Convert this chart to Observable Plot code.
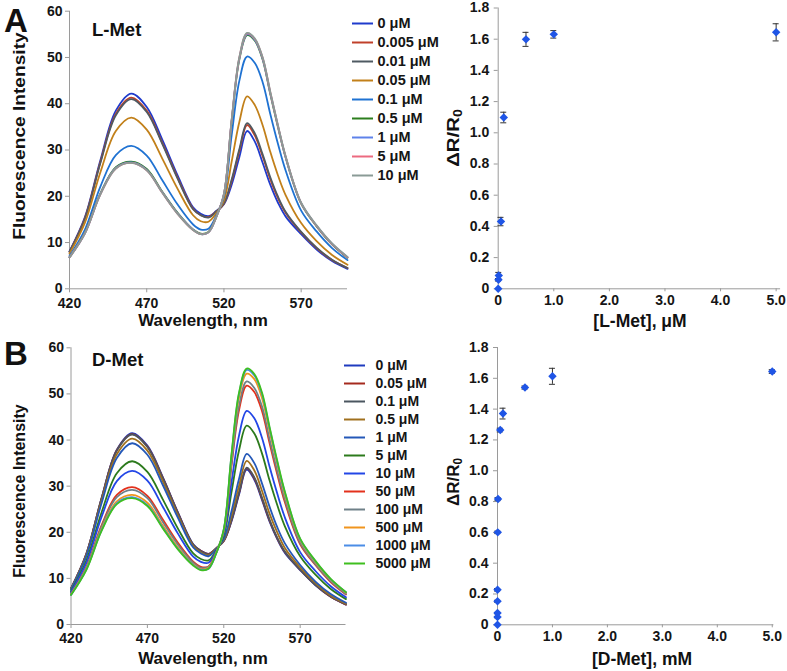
<!DOCTYPE html>
<html><head><meta charset="utf-8">
<script src="https://cdn.jsdelivr.net/npm/d3@7"></script>
<script src="https://cdn.jsdelivr.net/npm/@observablehq/plot@0.6"></script>
<style>
body{margin:0;background:#fff;}
#fig{position:relative;width:787px;height:671px;overflow:hidden;background:#fff;font-family:"Liberation Sans",Arial,Helvetica,sans-serif}
#fig g[aria-label="x-axis tick"], #fig g[aria-label="y-axis tick"]{stroke:#9a9a9a}
</style></head><body><div id="fig"></div><script>
// ---------- data ----------
const wavelengths = [420,430,440,450,460,470,480,490,500,505,510,515,520,525,530,535,540,545,550,555,560,570,580,590,600];

const lmetLabels = ["0 μM","0.005 μM","0.01 μM","0.05 μM","0.1 μM","0.5 μM","1 μM","5 μM","10 μM"];
const lmetColors = ["#1f3bcc","#c0402a","#4f5a62","#c2801a","#1f72d2","#2c7e1e","#5e82ea","#ec6a80","#8a9b96"];
const lmet0    = [8.1,15.5,27.8,38.5,42.2,39.3,32.3,24.5,17.6,16.2,15.7,16.8,18.3,22.5,28.5,34.1,31.8,27.3,22.5,18.6,15.6,11.8,8.5,6.0,4.3];
const lmet0005 = [8.0,15.3,27.4,37.8,41.3,38.5,31.6,24.0,17.3,15.9,15.5,16.7,18.4,23.3,29.8,35.4,33.1,28.7,23.7,19.6,16.4,12.2,8.8,6.2,4.5];
const lmet001  = [8.0,15.2,27.2,37.5,41.0,38.2,31.4,23.8,17.2,15.9,15.4,16.7,18.5,23.6,30.2,35.8,33.6,29.1,24.1,19.9,16.6,12.3,8.9,6.3,4.5];
const lmet005  = [7.6,14.3,25.2,34.1,37.0,34.4,28.2,21.6,15.9,14.6,14.5,16.3,19.1,27.5,36.1,41.6,39.7,35.4,29.6,24.5,20.2,14.2,10.3,7.3,5.2];
const lmet01   = [7.1,12.8,22.1,28.9,30.9,28.8,23.5,18.2,13.9,12.8,13.0,15.8,20.0,33.2,45.0,50.2,48.8,44.7,37.8,31.3,25.5,16.9,12.4,8.8,6.2];
const lmet05   = [6.8,12.1,20.6,26.3,27.5,25.9,21.0,16.4,12.8,11.9,12.3,15.5,20.4,36.2,49.6,54.8,53.6,49.6,42.1,34.9,28.3,18.4,13.5,9.6,6.7];
const lmet1    = [6.8,12.0,20.5,26.1,27.3,25.7,20.9,16.3,12.8,11.8,12.2,15.5,20.5,36.4,49.8,55.0,53.8,49.8,42.3,35.1,28.4,18.5,13.6,9.7,6.8];
const lmet5    = [6.8,12.0,20.4,26.0,27.2,25.6,20.8,16.2,12.7,11.8,12.2,15.5,20.5,36.5,50.0,55.2,54.0,50.0,42.5,35.2,28.5,18.5,13.6,9.7,6.8];
const lmet10   = [6.8,12.0,20.4,26.0,27.2,25.6,20.8,16.2,12.7,11.8,12.2,15.5,20.5,36.5,50.1,55.3,54.1,50.1,42.6,35.3,28.6,18.6,13.7,9.8,6.9];
const lmetSpectra = [lmet0,lmet0005,lmet001,lmet005,lmet01,lmet05,lmet1,lmet5,lmet10];

const dmetLabels = ["0 μM","0.05 μM","0.1 μM","0.5 μM","1 μM","5 μM","10 μM","50 μM","100 μM","500 μM","1000 μM","5000 μM"];
const dmetColors = ["#1f3bbf","#a52a1e","#4b5660","#a0701e","#2458b8","#2c7a1c","#2346e6","#e3311c","#6f8088","#f0951e","#4b8de6","#3fbf1f"];
const dmet0    = [7.8,15.3,27.4,37.9,41.5,38.8,32.0,24.3,17.4,16.0,15.3,16.5,18.1,22.3,28.2,33.6,31.4,27.0,22.3,18.5,15.5,11.8,8.5,6.0,4.3];
const dmet005  = [7.8,15.3,27.3,37.8,41.3,38.6,31.9,24.2,17.3,16.0,15.3,16.5,18.1,22.5,28.5,33.9,31.7,27.3,22.5,18.7,15.7,11.9,8.6,6.0,4.3];
const dmet01   = [7.8,15.2,27.3,37.7,41.2,38.5,31.8,24.1,17.3,15.9,15.2,16.5,18.2,22.6,28.6,34.0,31.9,27.5,22.7,18.8,15.8,11.9,8.6,6.1,4.4];
const dmet05   = [7.7,15.0,26.8,36.9,40.3,37.7,31.1,23.6,17.0,15.6,15.0,16.4,18.3,23.5,30.1,35.5,33.4,29.0,24.0,20.0,16.6,12.4,9.0,6.3,4.5];
const dmet1    = [7.6,14.8,26.3,36.1,39.3,36.8,30.3,23.1,16.7,15.4,14.8,16.3,18.5,24.5,31.6,37.0,35.0,30.6,25.5,21.1,17.6,12.9,9.3,6.6,4.7];
const dmet5    = [7.2,13.8,24.3,32.8,35.4,33.1,27.2,20.8,15.4,14.2,13.9,16.0,19.2,28.6,37.8,43.1,41.4,37.1,31.2,25.9,21.3,14.8,10.8,7.7,5.5];
const dmet10   = [7.0,13.3,23.3,31.1,33.3,31.2,25.6,19.7,14.7,13.6,13.4,15.9,19.6,30.7,41.0,46.3,44.7,40.5,34.2,28.4,23.2,15.7,11.6,8.3,5.9];
const dmet50   = [6.6,12.4,21.5,28.1,29.8,27.9,22.8,17.7,13.6,12.5,12.6,15.6,20.2,34.3,46.5,51.8,50.4,46.3,39.3,32.6,26.5,17.4,12.9,9.2,6.5];
const dmet100  = [6.6,12.3,21.2,27.6,29.2,27.4,22.3,17.3,13.4,12.3,12.5,15.5,20.3,34.8,47.4,52.7,51.3,47.3,40.1,33.3,27.1,17.7,13.1,9.4,6.6];
const dmet500  = [6.5,12.0,20.7,26.7,28.1,26.4,21.5,16.7,13.0,12.0,12.3,15.5,20.5,36.0,49.2,54.4,53.2,49.1,41.8,34.7,28.1,18.3,13.5,9.7,6.9];
const dmet1000 = [6.4,11.9,20.4,26.3,27.6,25.9,21.1,16.4,12.9,11.9,12.1,15.4,20.6,36.5,50.0,55.2,54.0,50.0,42.5,35.2,28.6,18.5,13.7,9.8,7.0];
const dmet5000 = [6.4,11.8,20.3,26.1,27.4,25.7,20.9,16.3,12.8,11.8,12.1,15.4,20.6,36.7,50.3,55.5,54.3,50.3,42.8,35.5,28.8,18.6,13.8,9.9,7.0];
const dmetSpectra = [dmet0,dmet005,dmet01,dmet05,dmet1,dmet5,dmet10,dmet50,dmet100,dmet500,dmet1000,dmet5000];

const wlTicks = [420,470,520,570];
const fiTicks = [0,10,20,30,40,50,60];
const ratioTicks = [0,0.2,0.4,0.6,0.8,1.0,1.2,1.4,1.6,1.8];
const concTicks = [0,1,2,3,4,5];

const lmetConc  = [0,0.005,0.01,0.05,0.1,0.5,1,5];          // μM
const lmetRatio = [0,0.058,0.085,0.431,1.098,1.599,1.631,1.644];
const lmetErr   = [0,0.008,0.02,0.027,0.034,0.045,0.024,0.055];

const dmetConc  = [0,0.00005,0.0001,0.0005,0.001,0.005,0.01,0.05,0.1,0.5,1,5]; // mM
const dmetRatio = [0,0.050,0.076,0.153,0.227,0.600,0.816,1.264,1.371,1.540,1.613,1.644];
const dmetErr   = [0,0.004,0.004,0.006,0.008,0.008,0.01,0.012,0.035,0.01,0.052,0.012];

// ---------- helpers ----------
const FONT = "'Liberation Sans', Arial, Helvetica, sans-serif";
const fig = document.getElementById("fig");
function place(el, left, top){ el.style.position="absolute"; el.style.left=left+"px"; el.style.top=top+"px"; fig.appendChild(el); }
const baseStyle = {fontFamily: FONT, fontSize: "14px", fontWeight: "bold", color: "#151515", background: "transparent", overflow: "visible"};
const fmt1 = d => d === 0 ? "0" : d.toFixed(1);

function spectra(series, labels, colors, c){
  const data = [];
  series.forEach((arr,i) => arr.forEach((v,j) => data.push({w: wavelengths[j], v, s: labels[i]})));
  return Plot.plot({
    width: c.w, height: c.h, marginLeft: c.ml, marginRight: c.mr, marginTop: c.mt, marginBottom: c.mb,
    style: baseStyle,
    x: {domain: [420,600], ticks: wlTicks, tickSize: 4, tickPadding: 5, label: null},
    y: {domain: [0,60], ticks: fiTicks, tickSize: 4, tickPadding: 3, label: null},
    color: {domain: labels, range: colors},
    marks: [
      Plot.ruleX([420], {stroke: "#9a9a9a"}),
      Plot.ruleY([0], {stroke: "#9a9a9a"}),
      Plot.line(data, {x: "w", y: "v", z: "s", stroke: "s", curve: "catmull-rom", strokeWidth: 1.8})
    ]
  });
}

function legend(labels, colors, c){
  const rows = labels.map((l,i) => ({l, c: colors[i]}));
  return Plot.plot({
    width: c.w, height: c.h, margin: 0,
    style: {...baseStyle, fontSize: c.fs},
    x: {domain: [0,1], range: c.xr, axis: null},
    y: {type: "point", domain: labels, range: c.yr, axis: null},
    marks: [
      Plot.ruleY(rows, {y: "l", x1: 0, x2: 1, stroke: d => d.c, strokeWidth: 2}),
      Plot.text(rows, {y: "l", x: 1, text: "l", dx: c.dx, textAnchor: "start", fill: "#151515"})
    ]
  });
}

function scatter(conc, ratio, err, c){
  const pts = conc.map((x,i) => ({x, y: ratio[i], lo: ratio[i]-err[i], hi: ratio[i]+err[i], e: err[i]}));
  const eb = pts.filter(d => d.e > 0);
  return Plot.plot({
    width: c.w, height: c.h, marginLeft: c.ml, marginRight: c.mr, marginTop: c.mt, marginBottom: c.mb,
    style: baseStyle,
    x: {domain: [0, c.xmax], ticks: concTicks, tickFormat: fmt1, tickSize: 3, tickPadding: 3, label: null},
    y: {domain: [0, 1.8], ticks: ratioTicks, tickFormat: fmt1, tickSize: 4, tickPadding: 5, label: null},
    marks: [
      Plot.ruleX([0], {stroke: "#9a9a9a"}),
      Plot.ruleY([0], {stroke: "#9a9a9a"}),
      Plot.ruleX(eb, {x: "x", y1: "lo", y2: "hi", stroke: "#333", strokeWidth: 1}),
      Plot.ruleY(eb, {y: "lo", x1: "x", x2: "x", insetLeft: -3, insetRight: -3, stroke: "#333", strokeWidth: 1}),
      Plot.ruleY(eb, {y: "hi", x1: "x", x2: "x", insetLeft: -3, insetRight: -3, stroke: "#333", strokeWidth: 1}),
      Plot.dot(pts, {x: "x", y: "y", symbol: "diamond2", r: 3.8, fill: "#1f55e6", stroke: "none"})
    ]
  });
}

// ---------- panels ----------
place(spectra(lmetSpectra, lmetLabels, lmetColors, {w:350, h:330, ml:69, mr:3, mt:10.7, mb:41.7}), 0, 0);
place(spectra(dmetSpectra, dmetLabels, dmetColors, {w:350, h:341, ml:70.5, mr:4.5, mt:17.3, mb:47}), 0, 330);
place(legend(lmetLabels, lmetColors, {w:120, h:200, xr:[12,33], yr:[12,185], dx:4, fs:"14.5px"}), 340, 0);
place(legend(dmetLabels, dmetColors, {w:130, h:260, xr:[14,35], yr:[25.5,243], dx:10, fs:"14px"}), 330, 330);
place(scatter(lmetConc, lmetRatio, lmetErr, {w:387, h:330, ml:97.7, mr:6.9, mt:7.5, mb:41.7, xmax:5.08}), 400, 0);
place(scatter(dmetConc, dmetRatio, dmetErr, {w:387, h:341, ml:97, mr:13.6, mt:17, mb:46.7, xmax:5.03}), 400, 330);

// ---------- text labels ----------
const ov = d3.create("svg").attr("width", 787).attr("height", 671)
  .style("position","absolute").style("left","0px").style("top","0px").style("pointer-events","none")
  .attr("font-family", FONT).attr("font-weight", "bold").attr("fill", "#111");
function t(x, y, s, size, anchor="start"){ return ov.append("text").attr("x", x).attr("y", y).attr("font-size", size).attr("text-anchor", anchor).text(s); }
t(4, 32, "A", 33);
t(4, 365, "B", 33);
t(92, 35.5, "L-Met", 18.5);
t(92, 365.5, "D-Met", 18.5);
t(203, 326, "Wavelength, nm", 17, "middle");
t(203, 663.5, "Wavelength, nm", 17, "middle");
t(640, 327, "[L-Met], μM", 17.5, "middle");
t(642, 665, "[D-Met], mM", 17.5, "middle");
function rot(x, y, size, sx, build){
  const g = ov.append("g").attr("transform", `translate(${x},${y}) rotate(-90) scale(${sx},1)`);
  const tx = g.append("text").attr("font-size", size).attr("text-anchor", "middle");
  build(tx);
}
rot(25, 136, 16.5, 1.16, tx => tx.text("Fluorescence Intensity"));
rot(25, 491, 16, 1.0, tx => tx.text("Fluorescence Intensity"));
function dr(tx){ tx.append("tspan").text("ΔR/R"); tx.append("tspan").attr("font-size", "0.7em").attr("dy", "0.25em").text("0"); }
rot(459, 138, 17, 1.2, dr);
rot(459, 482, 17, 1.0, dr);
fig.appendChild(ov.node());
</script></body></html>
